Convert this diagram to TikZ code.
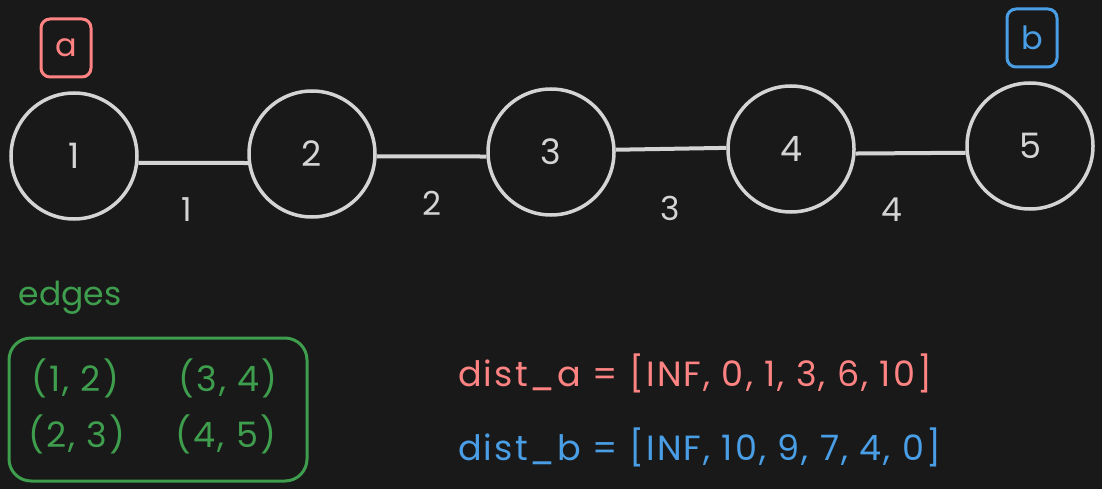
\documentclass[tikz,border=0pt]{standalone}
\usepackage{fontspec}
\setmainfont{Poppins}
\definecolor{bg}{HTML}{191919}
\definecolor{ink}{HTML}{D4D4D4}
\definecolor{ared}{HTML}{FF8383}
\definecolor{bblue}{HTML}{4A9EE6}
\definecolor{egreen}{HTML}{3E9E4D}
\newfontfamily\spaced[LetterSpace=6]{Poppins}
\begin{document}
\begin{tikzpicture}[x=1pt,y=-1pt,
  vert/.style={circle,draw=ink,line width=3.5pt,minimum size=126pt,inner sep=0pt,text=ink,font=\fontsize{35}{38}\selectfont},
  edgeline/.style={draw=ink,line width=4pt},
  wlabel/.style={text=ink,font=\fontsize{33}{36}\selectfont,inner sep=0pt},
  tagbox/.style={draw,line width=3pt,rounded corners=9pt,minimum width=50pt,minimum height=58pt,inner sep=0pt,font=\fontsize{32}{34}\selectfont},
  listtext/.style={text=egreen,font=\spaced\fontsize{35}{38}\selectfont,inner sep=0pt},
  bigtext/.style={inner sep=0pt,font=\spaced\fontsize{35}{38}\selectfont,anchor=west}]
\fill[bg] (0,0) rectangle (1102,489);
\useasboundingbox (0,0) rectangle (1102,489);
% vertices
\node[vert] (n1) at (74,156) {1};
\node[vert] (n2) at (312,154) {2};
\node[vert] (n3) at (551,152) {3};
\node[vert] (n4) at (791,149) {4};
\node[vert] (n5) at (1030,146) {5};
% edges
\draw[edgeline] (n1.-6) -- (n2.188);
\draw[edgeline] (n2.-2) -- (n3.184);
\draw[edgeline] (n3.2) -- (n4.179);
\draw[edgeline] (n4.-4) -- (n5.186);
% edge weights
\node[wlabel] (w1) at (187,210) {1};
\node[wlabel] (w2) at (432,203) {2};
\node[wlabel] (w3) at (670,208) {3};
\node[wlabel] (w4) at (892,210) {4};
% tags
\node[tagbox,draw=ared,text=ared] (ta) at (66,48) {a};
\node[tagbox,draw=bblue,text=bblue] (tb) at (1032,38) {b};
% edges list
\node[text=egreen,font=\fontsize{33}{36}\selectfont,inner sep=0pt] (elabel) at (70,298) {edges};
\draw[egreen,line width=3pt,rounded corners=22pt] (9,338) rectangle (307,481);
\node[listtext] (e12) at (75,378) {(1, 2)};
\node[listtext] (e34) at (228,378) {(3, 4)};
\node[listtext] (e23) at (77,434) {(2, 3)};
\node[listtext] (e45) at (226,434) {(4, 5)};
% distances
\node[bigtext,text=ared] (da) at (458,373) {dist\_a = [INF, 0, 1, 3, 6, 10]};
\node[bigtext,text=bblue] (db) at (458,447) {dist\_b = [INF, 10, 9, 7, 4, 0]};
\end{tikzpicture}
\end{document}
